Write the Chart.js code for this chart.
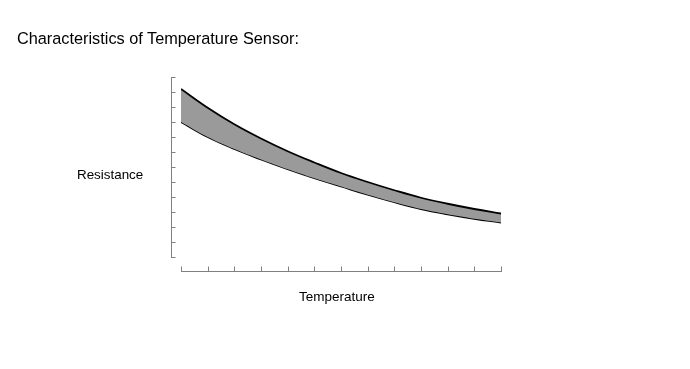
<!DOCTYPE html>
<html>
<head>
<meta charset="utf-8">
<script src="https://cdn.jsdelivr.net/npm/chart.js@4/dist/chart.umd.min.js"></script>
<style>
    body { margin: 0; background: #fff; }
    #wrap { position: relative; width: 690px; height: 369px; }
    .lbl { position: absolute; font-family: "Liberation Sans", Arial, sans-serif; color: #000; white-space: nowrap; }
</style>
</head>
<body>
<div id="wrap">
    <canvas id="sensorChart" width="690" height="369"></canvas>
    <div class="lbl" style="left:17px; top:29px; font-size:16.3px;">Characteristics of Temperature Sensor:</div>
    <div class="lbl" style="left:77px; top:167px; font-size:13.4px;">Resistance</div>
    <div class="lbl" style="left:299px; top:289px; font-size:13.5px;">Temperature</div>
</div>
<script>
// temperature steps (x axis ticks, no numbers shown)
const suhu = [0, 1, 2, 3, 4, 5, 6, 7, 8, 9, 10, 11, 12];
// upper and lower limit of the resistance band (arbitrary units)
const batasAtas = [11.2, 9.95, 8.85, 7.9, 7.05, 6.3, 5.6, 5.0, 4.45, 3.95, 3.55, 3.2, 2.9];
const batasBawah = [9.0, 8.0, 7.2, 6.5, 5.85, 5.25, 4.7, 4.15, 3.65, 3.2, 2.85, 2.55, 2.3];
// resistance ticks
const tickY = [0, 1, 2, 3, 4, 5, 6, 7, 8, 9, 10, 11, 12];

// axes are drawn detached from the plot, like the reference
const axesPlugin = {
    id: 'axesPlugin',
    afterDraw(chart) {
        const ctx = chart.ctx;
        const sx = chart.scales.x, sy = chart.scales.y;
        const a = chart.chartArea;
        ctx.save();
        ctx.strokeStyle = '#808080';
        ctx.lineWidth = 1;
        ctx.beginPath();
        // y axis
        const ax = Math.round(a.left - 10) + 0.5;
        ctx.moveTo(ax, Math.round(sy.getPixelForValue(tickY[tickY.length - 1])));
        ctx.lineTo(ax, Math.round(sy.getPixelForValue(tickY[0])) + 1);
        tickY.forEach(v => {
            const py = Math.round(sy.getPixelForValue(v)) + 0.5;
            ctx.moveTo(ax, py);
            ctx.lineTo(ax + 4, py);
        });
        // x axis
        const ay = Math.round(a.bottom + 14) + 0.5;
        ctx.moveTo(Math.round(sx.getPixelForValue(suhu[0])), ay);
        ctx.lineTo(Math.round(sx.getPixelForValue(suhu[suhu.length - 1])) + 1, ay);
        suhu.forEach(v => {
            const px = Math.round(sx.getPixelForValue(v)) + 0.5;
            ctx.moveTo(px, ay);
            ctx.lineTo(px, ay - 5);
        });
        ctx.stroke();
        ctx.restore();
    }
};

new Chart(document.getElementById('sensorChart'), {
    type: 'line',
    data: {
        labels: suhu,
        datasets: [{
            data: batasAtas,
            borderColor: '#000',
            borderWidth: 1.8,
            backgroundColor: '#9a9a9a',
            fill: '+1',
            pointRadius: 0,
            tension: 0.4
        }, {
            data: batasBawah,
            borderColor: '#000',
            borderWidth: 1.8,
            fill: false,
            pointRadius: 0,
            tension: 0.4
        }]
    },
    options: {
        responsive: false,
        animation: false,
        layout: { padding: { left: 181, right: 189, top: 77, bottom: 112 } },
        scales: {
            x: { type: 'linear', min: 0, max: 12, display: false },
            y: { min: 0, max: 12, display: false }
        },
        plugins: { legend: { display: false }, tooltip: { enabled: false } }
    },
    plugins: [axesPlugin]
});
</script>
</body>
</html>
